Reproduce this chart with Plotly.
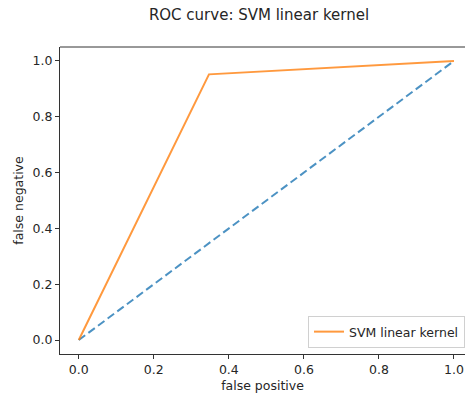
import plotly.graph_objects as go

# Data
chance_x = [0.0, 1.0]
chance_y = [0.0, 1.0]
roc_fpr = [0.0, 0.347, 1.0]
roc_tpr = [0.0, 0.952, 1.0]
series_name = "SVM linear kernel"
tick_vals = [0.0, 0.2, 0.4, 0.6, 0.8, 1.0]
tick_text = ["0.0", "0.2", "0.4", "0.6", "0.8", "1.0"]

W, H = 465, 398
L, T, B, R = 60, 47, 44, 0
FAM = "DejaVu Sans"
TXT = "#262626"
FS = 12.5

fig = go.Figure()
fig.add_trace(go.Scatter(
    x=chance_x, y=chance_y, mode="lines", showlegend=False,
    line=dict(color="rgba(31,119,180,0.8)", width=2, dash="8px,4px"),
    hoverinfo="skip"))
fig.add_trace(go.Scatter(
    x=roc_fpr, y=roc_tpr, mode="lines", name=series_name,
    line=dict(color="rgba(255,127,14,0.8)", width=2)))

font = dict(family=FAM, size=FS, color=TXT)
axis_common = dict(
    showgrid=False, zeroline=False, showline=True, linecolor="#333333",
    linewidth=1, ticks="outside", ticklen=4, tickcolor="#333333",
    tickvals=tick_vals, ticktext=tick_text, tickfont=font,
)
fig.update_layout(
    width=W, height=H,
    margin=dict(l=L, r=R, t=T, b=B, pad=0, autoexpand=False),
    paper_bgcolor="white", plot_bgcolor="white",
    font=font,
    title=dict(text="ROC curve: SVM linear kernel", x=259 / W, xanchor="center",
               y=1 - 15 / H, yanchor="middle", yref="container",
               font=dict(family=FAM, size=15, color=TXT)),
    xaxis=dict(range=[-0.05, (W - 79) / 375.0],
               title=dict(text="false positive", standoff=5,
                          font=dict(family=FAM, size=FS, color=TXT)),
               **axis_common),
    yaxis=dict(range=[-0.05, 1.05],
               title=dict(text="false negative", standoff=6,
                          font=dict(family=FAM, size=FS, color=TXT)),
               **axis_common),
    legend=dict(x=1.0, xanchor="right", y=(354 - 348) / (H - T - B),
                yanchor="bottom", bgcolor="rgba(255,255,255,0.8)",
                bordercolor="#d0d0d0", borderwidth=1, itemwidth=30,
                font=dict(family=FAM, size=FS, color=TXT),
                tracegroupgap=0),
    shapes=[dict(type="line", xref="paper", yref="paper", x0=0, x1=1, y0=1, y1=1,
                 line=dict(color="#333333", width=1))],
)

fig.write_html("out.html")
